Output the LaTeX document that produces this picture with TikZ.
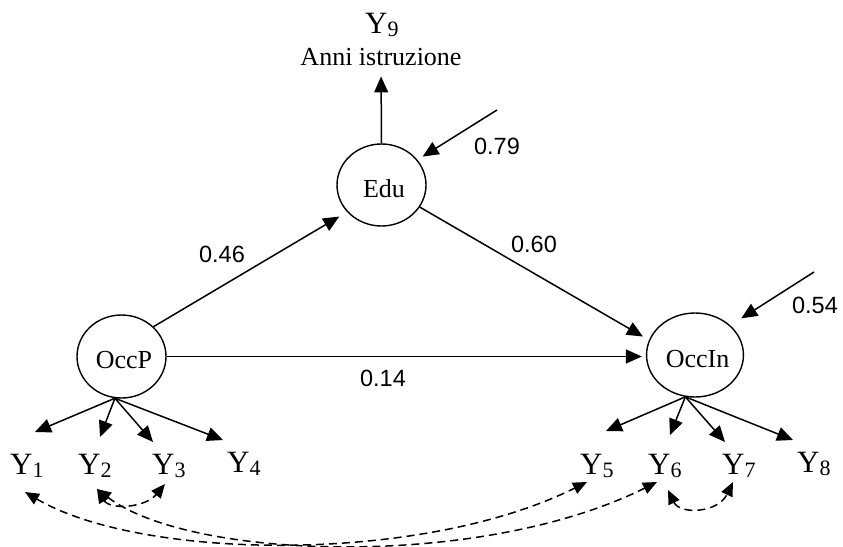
\documentclass[tikz,border=0pt]{standalone}
\usepackage{fontspec}
\setmainfont{Liberation Serif}
\newfontfamily\numfont{Liberation Sans}
\usetikzlibrary{shapes.geometric,arrows.meta}
\newcommand\yvar[1]{\fontsize{31}{31}\selectfont Y\raisebox{-3pt}{\fontsize{22}{22}\selectfont #1}}
\begin{document}
\begin{tikzpicture}[x=1pt,y=-1pt,
  lat/.style={ellipse,draw,line width=1.4pt,inner sep=0pt,font=\fontsize{26}{26}\selectfont,text height=24pt,text depth=0pt},
  arr/.style={line width=1.5pt,-{Triangle[length=16pt,width=14pt]}},
  cov/.style={line width=1.5pt,dash pattern=on 8pt off 5pt,{Triangle[length=14pt,width=12pt]}-{Triangle[length=14pt,width=12pt]}},
  coef/.style={font=\numfont\fontsize{23.5}{23.5}\selectfont,inner sep=0pt,anchor=base},
  obs/.style={inner sep=0pt,anchor=base west}]
\useasboundingbox (0,0) rectangle (843,546);

% latent variables
\node[lat,minimum width=89pt,minimum height=82pt] (edu) at (381.5,185) {\hspace*{5pt}Edu};
\node[lat,minimum width=89pt,minimum height=83pt] (occp) at (121.5,356.5) {\hspace*{5pt}OccP};
\node[lat,minimum width=96pt,minimum height=84pt] (occin) at (695,355) {\hspace*{5pt}OccIn};

% Y9
\node[font=\fontsize{26}{26}\selectfont,inner sep=0pt,anchor=base] (anni) at (381,65) {Anni istruzione};
\node[obs] (y9) at (365,33) {\yvar{9}};

% indicators
\node[obs] (y1) at (10,474) {\yvar{1}};
\node[obs] (y2) at (78,474) {\yvar{2}};
\node[obs] (y3) at (152,474) {\yvar{3}};
\node[obs] (y4) at (227,472) {\yvar{4}};
\node[obs] (y5) at (580,474) {\yvar{5}};
\node[obs] (y6) at (648,474) {\yvar{6}};
\node[obs] (y7) at (722,474) {\yvar{7}};
\node[obs] (y8) at (797,472) {\yvar{8}};

% coefficients
\node[coef] (k46) at (222,262) {0.46};
\node[coef] (k60) at (534,252) {0.60};
\node[coef] (k14) at (383,386) {0.14};
\node[coef] (k79) at (497,154) {0.79};
\node[coef] (k54) at (815,313) {0.54};

% structural paths
\draw[arr,shorten >=9pt] (occp.43) -- (edu.218);
\draw[arr,shorten >=7pt] (edu.330) -- (occin.162);
\draw[arr,shorten >=4pt] (occp.east) -- (occp.east -| occin.west);
\draw[arr,shorten >=11pt] (edu.north) -- (anni.south);

% residuals
\coordinate (r1) at (497,110);
\coordinate (r2) at (814,272);
\draw[arr,shorten >=6pt] (r1) -- (edu.35);
\draw[arr,shorten >=13pt] (r2) -- (occin.40);

% measurement arrows
\coordinate (t1) at (35,432);
\coordinate (t2) at (100,437);
\coordinate (t3) at (153,442);
\coordinate (t4) at (223,440);
\coordinate (t5) at (606,431);
\coordinate (t6) at (670,435);
\coordinate (t7) at (725,442);
\coordinate (t8) at (793,440);
\foreach \t in {t1,t2,t3,t4} \draw[arr] (occp.261) -- (\t);
\foreach \t in {t5,t6,t7,t8} \draw[arr] (occin.257) -- (\t);

% covariances
\coordinate (c1) at (25,492);
\coordinate (c2) at (97,489);
\coordinate (c3) at (165,484);
\coordinate (c5) at (587,482);
\coordinate (c6a) at (657,482);
\coordinate (c6b) at (668,490);
\coordinate (c7) at (733,482);
\draw[cov] (c1) .. controls (140,560) and (420,565) .. (c5);
\draw[cov] (c2) .. controls (190,560) and (480,570) .. (c6a);
\draw[cov] (c2) .. controls (110,510) and (145,508) .. (c3);
\draw[cov] (c6b) .. controls (680,515) and (718,513) .. (c7);
\end{tikzpicture}
\end{document}
